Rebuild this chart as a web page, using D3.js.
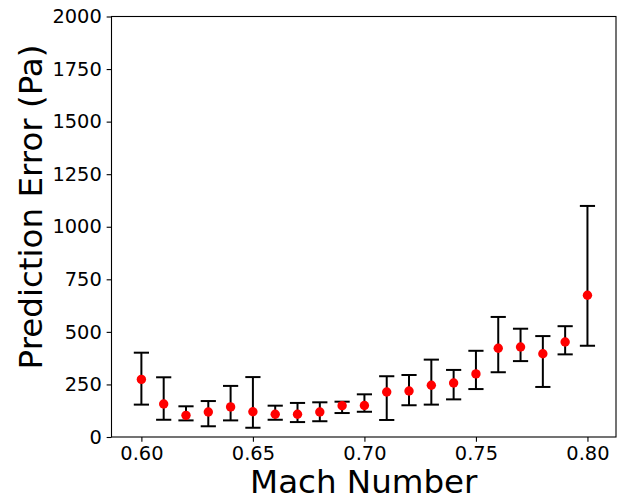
<!DOCTYPE html>
<html>
<head>
<meta charset="utf-8">
<script src="https://cdn.jsdelivr.net/npm/d3@7"></script>
<style>
  html, body { margin: 0; padding: 0; background: #ffffff; }
  svg { display: block; }
  text { font-family: "DejaVu Sans", sans-serif; fill: #000; }
</style>
</head>
<body>
<svg id="chart" width="617" height="496"></svg>
<script>
// Mach numbers tested
const machNumbers = [0.60, 0.61, 0.62, 0.63, 0.64, 0.65, 0.66, 0.67, 0.68, 0.69, 0.70,
                     0.71, 0.72, 0.73, 0.74, 0.75, 0.76, 0.77, 0.78, 0.79, 0.80];
// Mean prediction error (Pa)
const meanError = [274, 157, 103, 119, 143, 120, 108, 108, 119, 149, 150,
                   214, 219, 246, 257, 300, 422, 428, 396, 452, 674];
// Lower end of the error bar (Pa)
const lowerBound = [154, 82, 79, 51, 79, 44, 82, 71, 75, 114, 120,
                    81, 151, 154, 179, 228, 308, 361, 238, 393, 434];
// Upper end of the error bar (Pa)
const upperBound = [401, 284, 146, 171, 243, 285, 149, 162, 165, 168, 203,
                    289, 295, 368, 319, 410, 571, 515, 480, 527, 1099];

const xTicks = [0.60, 0.65, 0.70, 0.75, 0.80];
const yTicks = [0, 250, 500, 750, 1000, 1250, 1500, 1750, 2000];

const rows = machNumbers.map((m, i) => ({
  mach: m, mean: meanError[i], lo: lowerBound[i], hi: upperBound[i]
}));

const plot = { left: 111.5, right: 616, top: 16.5, bottom: 437 };
const svg = d3.select("#chart");
svg.append("rect").attr("width", 617).attr("height", 496).attr("fill", "#fff");

const x = d3.scaleLinear().domain([0.5866, 0.8128]).range([plot.left, plot.right]);
const y = d3.scaleLinear().domain([0, 2000]).range([plot.bottom, plot.top]);

const tickLen = 4.86;
const tickFont = 19.4;

// Axes
const gx = svg.append("g")
  .attr("transform", `translate(0,${plot.bottom})`)
  .call(d3.axisBottom(x).tickValues(xTicks).tickFormat(d3.format(".2f"))
        .tickSize(tickLen).tickPadding(4.86).tickSizeOuter(0));
const gy = svg.append("g")
  .attr("transform", `translate(${plot.left},0)`)
  .call(d3.axisLeft(y).tickValues(yTicks).tickFormat(d3.format("d"))
        .tickSize(tickLen).tickPadding(4.86).tickSizeOuter(0));
[gx, gy].forEach(g => {
  g.select(".domain").remove();
  g.selectAll(".tick line").attr("stroke", "#000").attr("stroke-width", 1.1);
  g.selectAll(".tick text").attr("font-size", tickFont)
    .attr("font-family", "DejaVu Sans, sans-serif").attr("fill", "#000");
});

// Frame
svg.append("rect")
  .attr("x", plot.left).attr("y", plot.top)
  .attr("width", plot.right - plot.left).attr("height", plot.bottom - plot.top)
  .attr("fill", "none").attr("stroke", "#000").attr("stroke-width", 1.1);

// Error bars
const cap = 7.6;
const bars = svg.append("g").attr("stroke", "#000").attr("stroke-width", 2).attr("fill", "none");
bars.selectAll("line.stem").data(rows).join("line").attr("class", "stem")
  .attr("x1", d => x(d.mach)).attr("x2", d => x(d.mach))
  .attr("y1", d => y(d.lo)).attr("y2", d => y(d.hi));
bars.selectAll("line.capTop").data(rows).join("line").attr("class", "capTop")
  .attr("x1", d => x(d.mach) - cap).attr("x2", d => x(d.mach) + cap)
  .attr("y1", d => y(d.hi)).attr("y2", d => y(d.hi));
bars.selectAll("line.capBot").data(rows).join("line").attr("class", "capBot")
  .attr("x1", d => x(d.mach) - cap).attr("x2", d => x(d.mach) + cap)
  .attr("y1", d => y(d.lo)).attr("y2", d => y(d.lo));

// Mean markers
svg.append("g").selectAll("circle").data(rows).join("circle")
  .attr("cx", d => x(d.mach)).attr("cy", d => y(d.mean))
  .attr("r", 4.7).attr("fill", "#ff0000");

// Axis titles
svg.append("text")
  .attr("x", (plot.left + plot.right) / 2).attr("y", 492.5)
  .attr("text-anchor", "middle").attr("font-size", 32.5)
  .text("Mach Number");
svg.append("text")
  .attr("transform", "translate(41.5,207) rotate(-90)")
  .attr("text-anchor", "middle").attr("font-size", 32.5)
  .text("Prediction Error (Pa)");
</script>
</body>
</html>
